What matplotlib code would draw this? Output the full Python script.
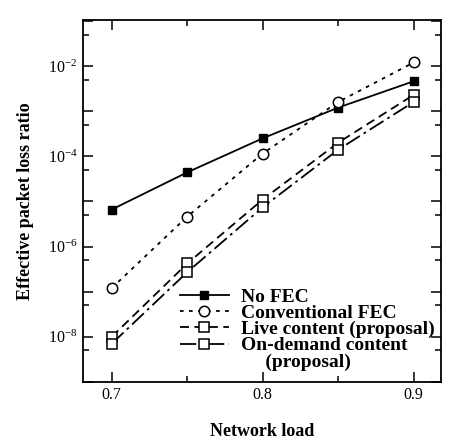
import matplotlib as mpl
mpl.use('Agg')
from matplotlib import pyplot as plt
from matplotlib.ticker import LogLocator, FuncFormatter, FixedLocator
from matplotlib.lines import Line2D
import numpy as np

mpl.rcParams.update({'font.family': ['Liberation Serif', 'DejaVu Serif'],
                     'mathtext.fontset': 'custom',
                     'mathtext.rm': 'Liberation Serif',
                     'mathtext.default': 'regular',
                     'axes.linewidth': 1.3,
                     'xtick.direction': 'in', 'ytick.direction': 'in',
                     'xtick.top': True, 'ytick.right': True,
                     'xtick.major.size': 7, 'xtick.minor.size': 4,
                     'ytick.major.size': 7, 'ytick.minor.size': 4,
                     'xtick.major.width': 1.1, 'ytick.major.width': 1.1,
                     'xtick.minor.width': 1.1, 'ytick.minor.width': 1.1,
                     })

# network load
load = [0.70, 0.75, 0.80, 0.85, 0.90]

# effective packet loss ratio
no_fec = [6.6e-6, 4.4e-5, 2.5e-4, 1.2e-3, 4.6e-3]
conv_fec = [1.2e-7, 4.6e-6, 1.15e-4, 1.6e-3, 1.2e-2]
live = [1.0e-8, 4.2e-7, 1.1e-5, 2.0e-4, 2.3e-3]
on_demand = [7.0e-9, 2.7e-7, 7.4e-6, 1.4e-4, 1.6e-3]

labels = ['No FEC', 'Conventional FEC', 'Live content (proposal)',
          'On-demand content', '     (proposal)']

fig = plt.figure(figsize=(4.54, 4.44), dpi=100)
ax = fig.add_axes([0.183, 0.140, 0.788, 0.815])

lw = 1.3
l1, = ax.plot(load, no_fec, color='black', lw=lw, ls='-', marker='s', ms=6,
              mfc='black', mec='black')
l2, = ax.plot(load, conv_fec, color='black', lw=lw, ls=(0, (2, 3)), marker='o', ms=7.5,
              mfc='white', mec='black', mew=1.1)
l3, = ax.plot(load, live, color='black', lw=lw, ls=(0, (5, 3)), marker='s', ms=6.5,
              mfc='white', mec='black', mew=1.1)
l4, = ax.plot(load, on_demand, color='black', lw=lw, ls=(0, (9, 2.5, 1.5, 2.5)), marker='s',
              ms=6.5, mfc='white', mec='black', mew=1.1)
blank = Line2D([], [], lw=0, marker=None)

ax.set_yscale('log')
ax.set_xlim(0.681, 0.918)
ax.set_ylim(1e-9, 1.05e-1)

ax.xaxis.set_major_locator(FixedLocator([0.7, 0.8, 0.9]))
ax.xaxis.set_minor_locator(FixedLocator([0.75, 0.85]))
ax.xaxis.set_major_formatter(FuncFormatter(lambda v, p: '%.1f' % v))

ax.yaxis.set_major_locator(LogLocator(base=10, numticks=20))
ax.yaxis.set_minor_locator(LogLocator(base=10, subs=[5.0], numticks=20))


def yfmt(v, p):
    e = int(round(np.log10(v)))
    if e % 2 == 0 and e < 0:
        return r'$10^{\mathregular{-%d}}$' % (-e)
    return ''


ax.yaxis.set_major_formatter(FuncFormatter(yfmt))
ax.yaxis.set_minor_formatter(FuncFormatter(lambda v, p: ''))
ax.tick_params(axis='both', which='major', labelsize=11.5, pad=4)

ax.set_xlabel('Network load', fontsize=13, fontweight='bold', labelpad=14)
ax.set_ylabel('Effective packet loss ratio', fontsize=13, fontweight='bold', labelpad=10)

leg = ax.legend([l1, l2, l3, l4, blank], labels, loc='lower right', frameon=False,
                prop={'weight': 'bold', 'size': 14},
                handlelength=2.5, handletextpad=0.65, labelspacing=-0.07,
                borderaxespad=0.0, borderpad=0.2, bbox_to_anchor=(0.995, 0.02))

fig.savefig('out.png', dpi=100)
